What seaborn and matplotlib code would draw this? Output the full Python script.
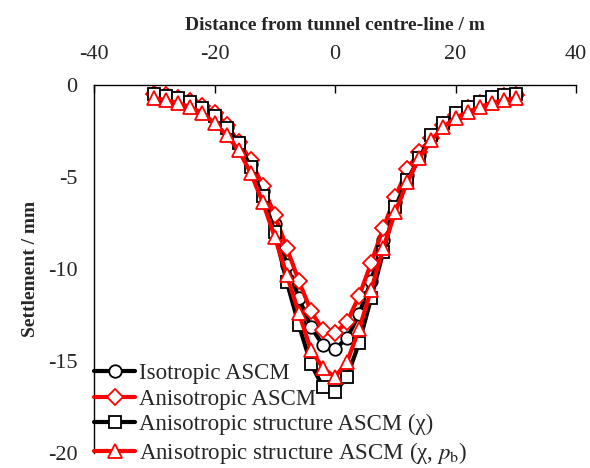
import matplotlib
matplotlib.use("Agg")
import matplotlib.pyplot as plt
import seaborn as sns
import numpy as np

# distance from tunnel centre-line (m)
distance = [-30, -28, -26, -24, -22, -20, -18, -16, -14, -12, -10, -8, -6, -4, -2, 0,
            2, 4, 6, 8, 10, 12, 14, 16, 18, 20, 22, 24, 26, 28, 30]

isotropic = [-0.49, -0.54, -0.71, -0.92, -1.25, -1.68, -2.28, -3.10, -4.29, -5.76, -7.55, -9.78,
             -11.58, -13.15, -14.13, -14.35, -13.75, -12.45, -10.65, -8.42, -6.36, -4.89,
             -3.80, -2.83, -2.12, -1.58, -1.20, -0.92, -0.71, -0.54, -0.49]

anisotropic = [-0.49, -0.54, -0.71, -0.87, -1.14, -1.52, -2.17, -3.10, -4.08, -5.49, -7.07, -8.86,
               -10.65, -12.28, -13.32, -13.48, -12.88, -11.47, -9.67, -7.77, -6.09, -4.57,
               -3.64, -2.88, -2.17, -1.63, -1.25, -0.98, -0.76, -0.60, -0.54]

structure_chi = [-0.49, -0.60, -0.71, -0.92, -1.25, -1.68, -2.34, -3.15, -4.46, -6.03, -7.99, -10.71,
                 -13.04, -15.16, -16.41, -16.68, -15.87, -14.02, -11.58, -9.08, -6.63, -5.16,
                 -3.97, -2.72, -2.07, -1.52, -1.20, -0.92, -0.65, -0.54, -0.49]

structure_chi_pb = [-0.71, -0.82, -0.98, -1.20, -1.52, -2.07, -2.72, -3.53, -4.78, -6.36, -8.26, -10.33,
                    -12.39, -14.40, -15.38, -15.87, -15.05, -13.26, -11.14, -8.86, -6.90, -5.27,
                    -3.97, -2.99, -2.28, -1.79, -1.47, -1.20, -0.98, -0.82, -0.71]

labels = ["Isotropic ASCM",
          "Anisotropic ASCM",
          "Anisotropic structure ASCM (\u03c7)",
          "Anisotropic structure ASCM (\u03c7, $p_{\\rm b}$)"]
series = [isotropic, anisotropic, structure_chi, structure_chi_pb]
colors = ["black", "red", "black", "red"]
markers = ["o", "D", "s", "^"]
msizes = [9, 8, 9, 10]

sns.set_style("white")
plt.rcParams["font.family"] = ["Liberation Serif", "DejaVu Serif"]
plt.rcParams["mathtext.fontset"] = "stix"
plt.rcParams["axes.unicode_minus"] = False

fig = plt.figure(figsize=(5.90, 4.68), dpi=100)
ax = fig.add_axes([94 / 590, 1 - 453 / 468, (576 - 94) / 590, (453 - 85) / 468])

for vals, lab, c, m, ms in zip(series, labels, colors, markers, msizes):
    sns.lineplot(x=distance, y=vals, ax=ax, color=c, linewidth=3, marker=m,
                 markersize=ms, markerfacecolor="white", markeredgecolor=c,
                 markeredgewidth=1.3, label=lab, sort=False)

ax.set_xlim(-40, 40)
ax.set_ylim(-20, 0)
ax.set_xticks([-40, -20, 0, 20, 40])
ax.set_yticks([0, -5, -10, -15, -20])
ax.xaxis.tick_top()
ax.xaxis.set_label_position("top")
ax.set_xlabel("Distance from tunnel centre-line / m", fontsize=14, fontweight="bold", labelpad=11)
ax.set_ylabel("Settlement / mm", fontsize=14, fontweight="bold", labelpad=6)
ax.tick_params(axis="both", direction="in", length=6, width=1, labelsize=16, color="black")
ax.tick_params(axis="x", pad=15)
ax.tick_params(axis="y", pad=12)
for side in ["right", "bottom"]:
    ax.spines[side].set_visible(False)
for side in ["left", "top"]:
    ax.spines[side].set_color("black")
    ax.spines[side].set_linewidth(1)
ax.grid(False)

leg = ax.legend(loc="lower left", bbox_to_anchor=(0.0, -0.035), frameon=False,
                fontsize=16.5, handlelength=1.8, handletextpad=0.15, labelspacing=0.2,
                borderaxespad=0.0, borderpad=0.0)

fig.savefig("out.png", dpi=100)
